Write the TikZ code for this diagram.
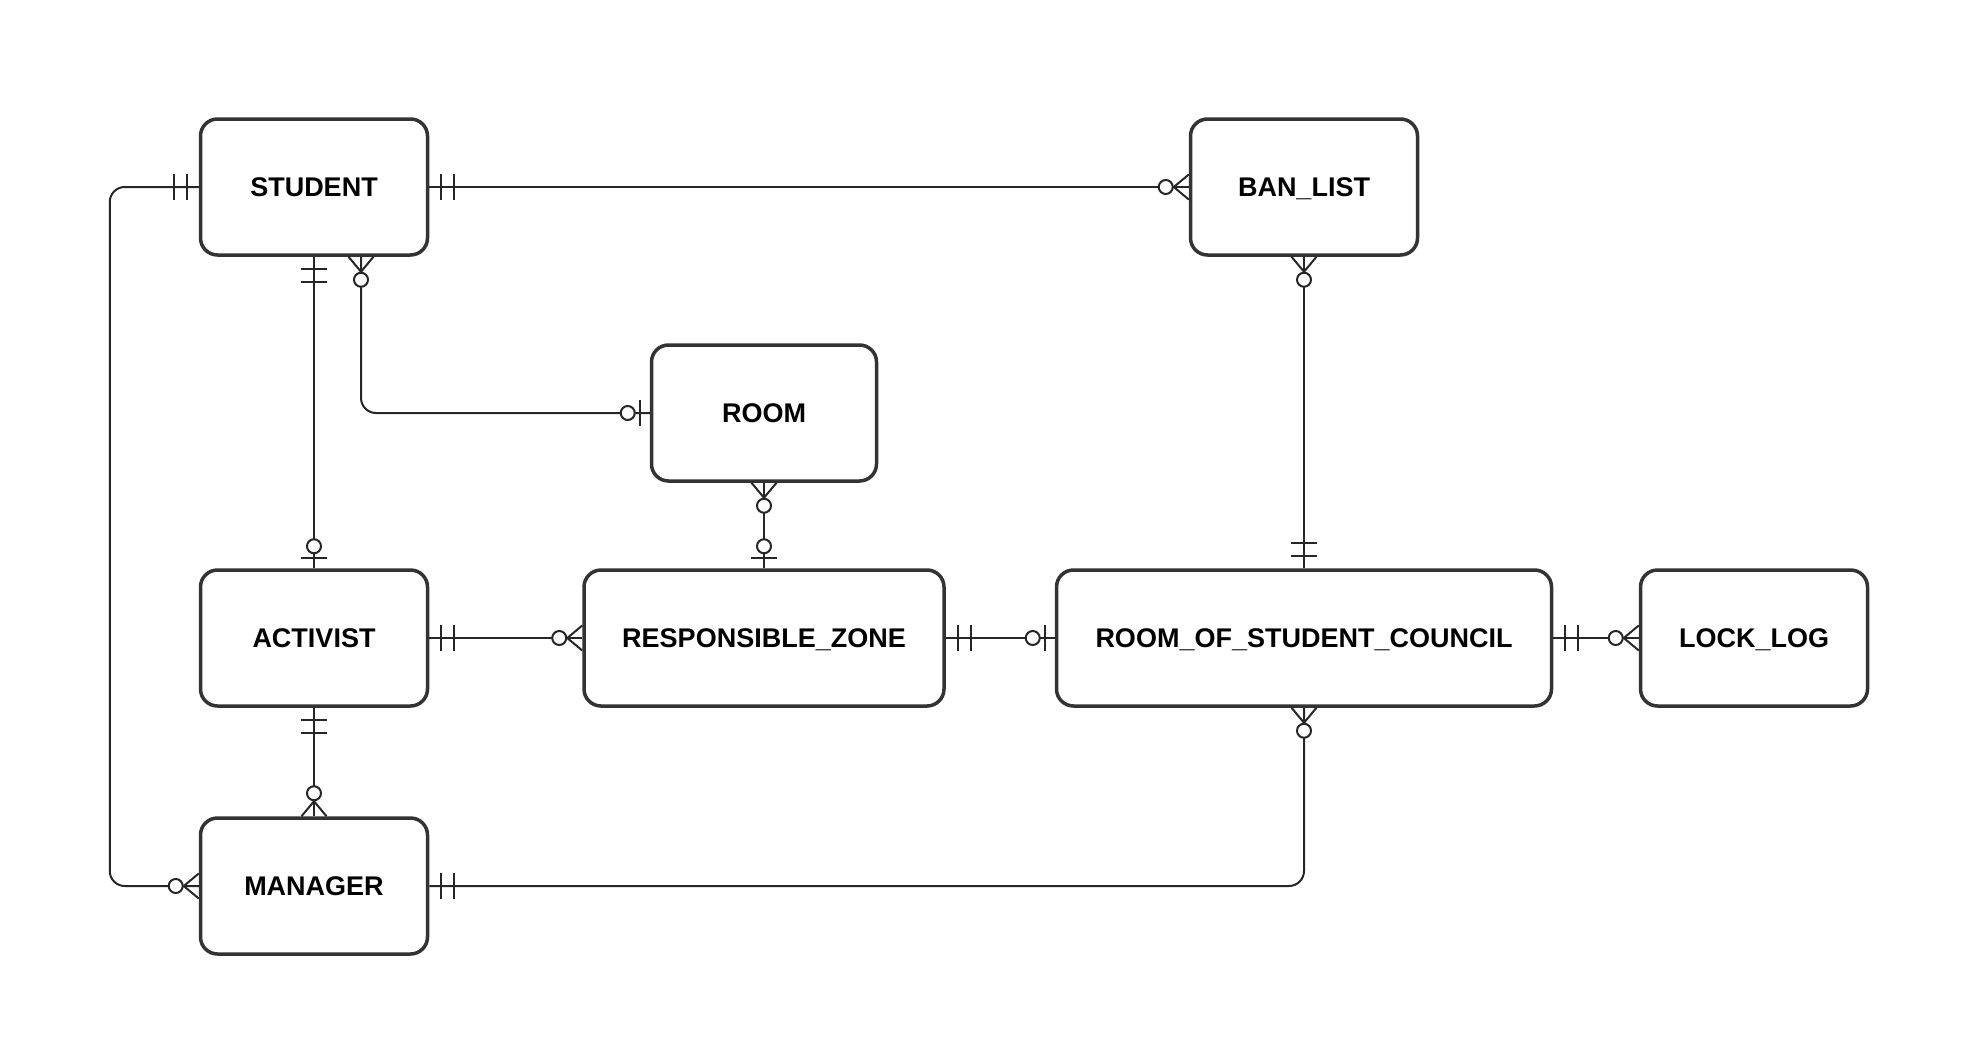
\documentclass[tikz,border=0pt]{standalone}
\usepackage{fontspec}
\setmainfont{Liberation Sans}
\usetikzlibrary{calc}

\tikzset{
  entity/.style={draw=black!80,line width=3.5,rounded corners=17,fill=white,
    minimum width=227,minimum height=136,inner sep=0,text height=19.5,text depth=0,
    font=\fontsize{27}{32}\selectfont\bfseries},
  conn/.style={line width=2,black!85},
}
% end marks: #1 = point on the box, #2 = direction away from the box
\newcommand{\markone}[2]{\begin{scope}[shift={#1},rotate=#2]
  \draw[conn] (12,-13)--(12,13) (25,-13)--(25,13);\end{scope}}
\newcommand{\markmany}[2]{\begin{scope}[shift={#1},rotate=#2]
  \draw[conn] (0,-12.5)--(15,0)--(0,12.5);
  \draw[conn,fill=white] (23,0) circle (7);\end{scope}}
\newcommand{\markzeroone}[2]{\begin{scope}[shift={#1},rotate=#2]
  \draw[conn] (10,-13)--(10,13);
  \draw[conn,fill=white] (22,0) circle (7);\end{scope}}

\begin{document}
\begin{tikzpicture}[x=1pt,y=1pt]
\useasboundingbox (0,0) rectangle (1972,-1060);
%\draw[help lines] (0,0) grid (1972,-1060);
\node[entity] (student) at (314,-187) {STUDENT};
\node[entity] (banlist) at (1304,-187) {BAN\_LIST};
\node[entity,minimum width=225] (room) at (764,-413) {ROOM};
\node[entity] (activist) at (314,-638) {ACTIVIST};
\node[entity,minimum width=360] (zone) at (764,-638) {RESPONSIBLE\_ZONE};
\node[entity,minimum width=495] (rosc) at (1304,-638) {ROOM\_OF\_STUDENT\_COUNCIL};
\node[entity] (locklog) at (1754,-638) {LOCK\_LOG};
\node[entity] (manager) at (314,-886) {MANAGER};
\coordinate (stuRoom) at ([xshift=47]student.south);

\draw[conn,rounded corners=15] (student.west) -- ++(-89,0) |- (manager.west);
\draw[conn] (student.east) -- (banlist.west);
\draw[conn] (student.south) -- (activist.north);
\draw[conn,rounded corners=15] (stuRoom) |- (room.west);
\draw[conn] (banlist.south) -- (rosc.north);
\draw[conn] (room.south) -- (zone.north);
\draw[conn] (activist.east) -- (zone.west);
\draw[conn] (zone.east) -- (rosc.west);
\draw[conn] (rosc.east) -- (locklog.west);
\draw[conn] (activist.south) -- (manager.north);
\draw[conn,rounded corners=15] (manager.east) -| (rosc.south);

\markone{(student.west)}{180}  \markmany{(manager.west)}{180}
\markone{(student.east)}{0}    \markmany{(banlist.west)}{180}
\markone{(student.south)}{-90} \markzeroone{(activist.north)}{90}
\markmany{(stuRoom)}{-90}      \markzeroone{(room.west)}{180}
\markmany{(banlist.south)}{-90} \markone{(rosc.north)}{90}
\markmany{(room.south)}{-90}   \markzeroone{(zone.north)}{90}
\markone{(activist.east)}{0}   \markmany{(zone.west)}{180}
\markone{(zone.east)}{0}       \markzeroone{(rosc.west)}{180}
\markone{(rosc.east)}{0}       \markmany{(locklog.west)}{180}
\markone{(activist.south)}{-90} \markmany{(manager.north)}{90}
\markone{(manager.east)}{0}    \markmany{(rosc.south)}{-90}
\end{tikzpicture}
\end{document}
